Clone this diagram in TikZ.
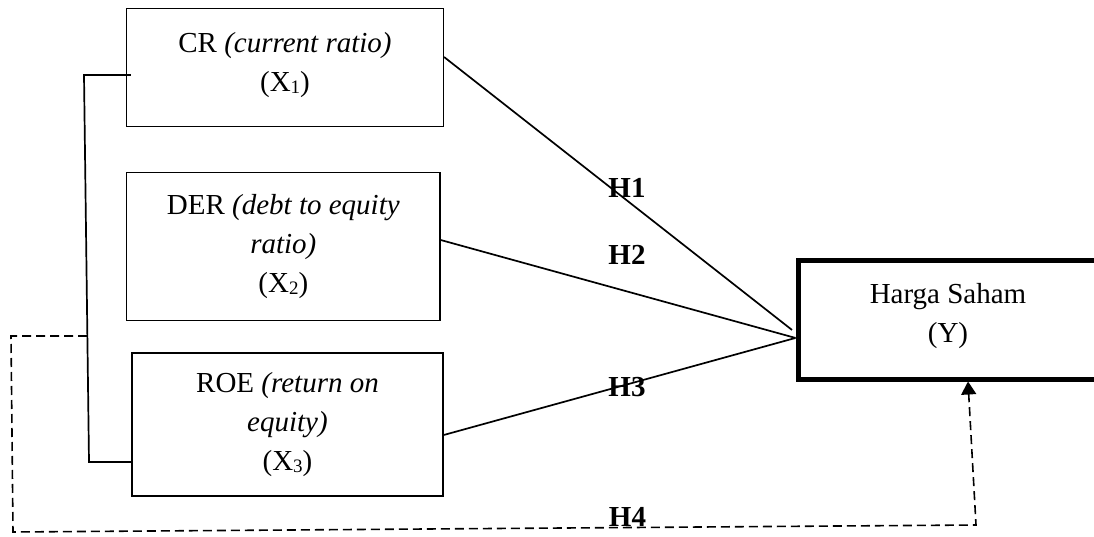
\documentclass[tikz,border=0pt]{standalone}
\usepackage{fontspec}
\setmainfont{Liberation Serif}[ItalicFont={Liberation Serif Italic},BoldFont={Liberation Serif Bold}]
\usetikzlibrary{arrows.meta}
\newcommand{\lowidx}[1]{\raisebox{-2pt}{\fontsize{19}{19}\selectfont #1}}
\begin{document}
\begin{tikzpicture}[x=1pt,y=-1pt,
	thin,main node/.style = {rectangle,draw,line width=1.5pt,align=center,inner sep=0pt,font=\fontsize{29}{39}\selectfont},
	h node/.style = {inner sep=0pt,font=\fontsize{29}{39}\selectfont\bfseries},
	link/.style = {line width=1.7pt},
	dash line/.style = {line width=1.6pt,dash pattern=on 9pt off 5pt}]
	\clip (0,0) rectangle (1094,537);
	
	\node[main node,minimum width=316.6pt,minimum height=118pt,text depth=11pt] (1) at (285,67.7) {CR \textit{(current ratio)}\\(X\lowidx{1})};
	\node[main node,minimum width=313.3pt,minimum height=148pt] (2) at (283.3,246.7) {DER \textit{(debt to equity}\\\textit{ratio)}\\(X\lowidx{2})};
	\node[main node,minimum width=311pt,minimum height=143.3pt] (3) at (287.5,424.4) {ROE \textit{(return on}\\\textit{equity)}\\(X\lowidx{3})};
	\node[main node,line width=5pt,minimum width=300pt,minimum height=118.7pt,text depth=13pt] (4) at (948,319.65) {Harga Saham\\(Y)};
	\node[h node] (5) at (627,188.3) {H1};
	\node[h node] (6) at (627,255) {H2};
	\node[h node] (7) at (627,386.7) {H3};
	\node[h node] (8) at (627.5,517) {H4};
	
	\coordinate (a) at (84,75);
	\coordinate (b) at (89,462);
	\coordinate (c) at (87,336);
	\coordinate (d) at (11,336);
	\coordinate (e) at (13,532);
	\coordinate (f) at (976,525);
	
	\draw[link] ([yshift=10.7pt]1.east) -- ([shift={(-3.5pt,-10.3pt)}]4.west);
	\draw[link] ([yshift=6.7pt]2.east) -- ([yshift=-18.3pt]4.west);
	\draw[link] ([yshift=-10.6pt]3.east) -- ([yshift=-18.3pt]4.west);
	\draw[link] ([shift={(5pt,-7.3pt)}]1.west) -- (a) -- (b) -- ([yshift=-37.6pt]3.west);
	\draw[dash line,-{Triangle[width=15pt,length=13pt]}] (c) -- (d) -- (e) -- (f) -- ([xshift=20pt]4.south);
	
	\end{tikzpicture}
\end{document}
